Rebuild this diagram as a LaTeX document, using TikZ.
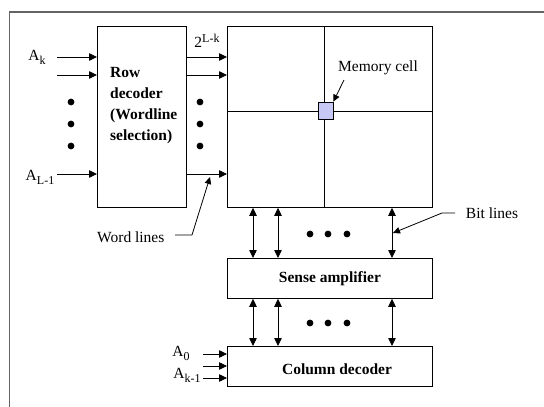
\documentclass[tikz,border=0pt]{standalone}
\usepackage{fontspec}
\setmainfont{Liberation Serif}
\usetikzlibrary{arrows.meta}
\definecolor{cellblue}{RGB}{200,200,245}
\definecolor{framegray}{RGB}{100,100,100}
\newcommand\lowsub[1]{\raisebox{-4pt}{\fontsize{12}{12}\selectfont #1}}
\newcommand\highsup[1]{\raisebox{5.5pt}{\fontsize{12}{12}\selectfont #1}}
\begin{document}
\begin{tikzpicture}[x=1pt,y=-1pt,
  box/.style={draw,line width=0.8pt,inner sep=0pt,anchor=north west},
  arr/.style={-{Triangle[length=8pt,width=7.5pt]},line width=0.8pt},
  darr/.style={{Triangle[length=8pt,width=7.5pt]}-{Triangle[length=8pt,width=7.5pt]},line width=0.8pt},
  thin/.style={line width=0.8pt},
  lbl/.style={font=\fontsize{15.5}{17}\selectfont,inner sep=0pt},
  blbl/.style={font=\fontsize{15.5}{21}\selectfont\bfseries},
  dotc/.style={circle,fill,inner sep=0pt,minimum size=6.8pt}]
\useasboundingbox (0,0) rectangle (544,407);
% frame
\draw[framegray,line width=1.3pt] (544,12) -- (9.5,12) -- (9.5,407);
% boxes
\node[box,minimum width=89pt,minimum height=181pt] (rd) at (97,26) {};
\node[blbl,align=left,anchor=west,inner sep=0pt] (rdtxt) at (110,106) {Row\\decoder\\(Wordline\\selection)};
\node[box,minimum width=205pt,minimum height=181pt] (mem) at (227,26) {};
\node[box,blbl,minimum width=205pt,minimum height=40pt] (sa) at (227,258) {Sense amplifier};
\node[box,minimum width=205pt,minimum height=40pt] (cd) at (227,346) {};
\node[blbl,inner sep=0pt] (cdtxt) at (337,369) {Column decoder};
% memory array grid
\coordinate (hm) at (433,111);
\coordinate (vm) at (324,26);
\draw[thin] (mem.west |- hm) -- (hm);
\draw[thin] (vm) -- (vm |- mem.south);
\node[draw,fill=cellblue,line width=0.7pt,minimum width=15pt,minimum height=17pt,inner sep=0pt] (cell) at (325.5,110.5) {};
\node[lbl] (mc) at (378,68) {Memory cell};
\coordinate (mcs) at (344,80);
\draw[thin,-{Triangle[length=7pt,width=6.5pt]}] (mcs) -- (cell.north east);
% row decoder inputs
\coordinate (i1) at (57,57);
\coordinate (i2) at (57,75);
\coordinate (i3) at (57,174);
\foreach \c in {i1,i2,i3}{
  \draw[arr] (\c) -- (\c -| rd.west);
  \draw[arr] (\c -| rd.east) -- (\c -| mem.west);
}
\node[lbl] (ak) at (37,57) {A\lowsub{k}};
\node[lbl] (al) at (40,177) {A\lowsub{L-1}};
\node[lbl] (tl) at (207,41) {2\highsup{L-k}};
\foreach \y [count=\n] in {102,124,146}{
  \node[dotc] (ld\n) at (71,\y) {};
  \node[dotc] (rdd\n) at (200,\y) {};
}
% word lines
\node[lbl,anchor=west] (wl) at (97,237) {Word lines};
\coordinate (w1) at (175,235);
\coordinate (w2) at (192,235);
\coordinate (w3) at (210,177);
\draw[thin,-{Triangle[length=7pt,width=6.5pt]}] (w1) -- (w2) -- (w3);
% bit lines
\coordinate (b1) at (253,0);
\coordinate (b2) at (278,0);
\coordinate (b3) at (392,0);
\foreach \c in {b1,b2,b3}{
  \draw[darr] (\c |- mem.south) -- (\c |- sa.north);
  \draw[darr] (\c |- sa.south) -- (\c |- cd.north);
}
\foreach \x [count=\n] in {310,328,347}{
  \node[dotc] (bd\n) at (\x,234) {};
  \node[dotc] (cdd\n) at (\x,323) {};
}
\node[lbl] (bl) at (492,213) {Bit lines};
\coordinate (bl1) at (455,213);
\coordinate (bl2) at (442,213);
\coordinate (bl3) at (393,233);
\draw[thin,-{Triangle[length=7pt,width=6.5pt]}] (bl1) -- (bl2) -- (bl3);
% column decoder inputs
\coordinate (c1) at (203,354);
\coordinate (c2) at (203,366);
\coordinate (c3) at (203,378);
\foreach \c in {c1,c2,c3}{
  \draw[arr] (\c) -- (\c -| cd.west);
}
\node[lbl] (a0) at (181,353) {A\lowsub{0}};
\node[lbl] (ak1) at (187,375) {A\lowsub{k-1}};
\end{tikzpicture}
\end{document}
